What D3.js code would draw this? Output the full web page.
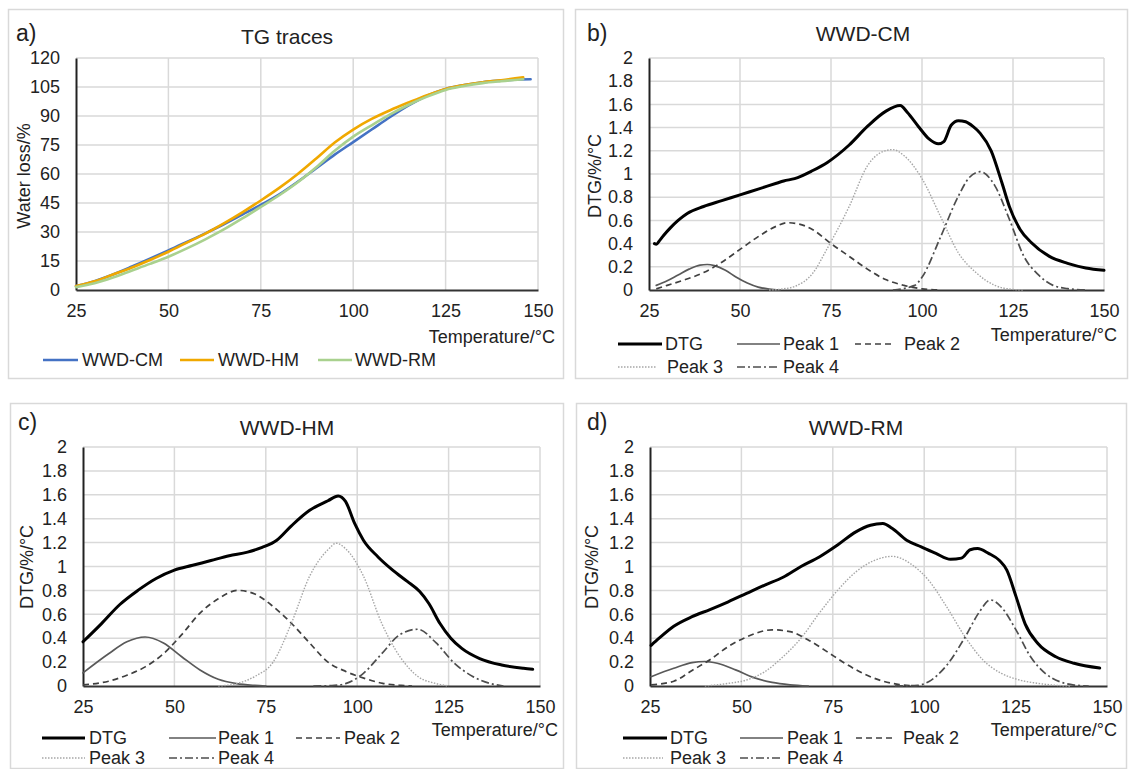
<!DOCTYPE html>
<html><head><meta charset="utf-8">
<script src="https://cdn.jsdelivr.net/npm/d3@7"></script>
<style>body{margin:0;background:#fff}svg{display:block}text{font-family:"Liberation Sans",Arial,sans-serif;fill:#222}</style>
</head><body><div id="chart"></div>
<script>
// ---------- data ----------
const tempTicks = [25, 50, 75, 100, 125, 150];
const tgTicks = [0, 15, 30, 45, 60, 75, 90, 105, 120];
const dtgTicks = [0, 0.2, 0.4, 0.6, 0.8, 1, 1.2, 1.4, 1.6, 1.8, 2];
const tgSeriesNames = ["WWD-CM", "WWD-HM", "WWD-RM"];
const dtgSeriesNames = ["DTG", "Peak 1", "Peak 2", "Peak 3", "Peak 4"];

const tgCM = [[25,2],[30,4.5],[35,8],[40,12],[45,16.2],[50,20.5],[55,24.8],[60,29.3],[65,34],[70,39],[75,44],[80,49.5],[85,56],[90,63],[95,70],[100,76.5],[105,83],[110,89.5],[115,95.5],[120,100.5],[125,104],[130,106],[135,107.5],[140,108.3],[145,108.9],[148,109]];
const tgHM = [[25,2],[30,4.5],[35,8],[40,11.5],[45,15.5],[50,19.8],[55,24.5],[60,29.2],[65,34.5],[70,40.2],[75,46.3],[80,52.8],[85,60],[90,68],[95,76.3],[100,83],[105,88.5],[110,93],[115,97],[120,100.8],[125,104],[130,106],[135,107.5],[140,108.5],[146,110]];
const tgRM = [[25,1.5],[30,3.5],[35,6.5],[40,10],[45,13.5],[50,17.2],[55,21.5],[60,26.2],[65,31.3],[70,37],[75,43],[80,49],[85,55.7],[90,63.5],[95,72],[100,79.3],[105,85.2],[110,90.8],[115,95.8],[120,100],[125,103.5],[130,105.5],[135,107],[140,108],[146,109]];

// WWD-CM
const cmDTG = [[26.5,0.40],[27,0.395],[28,0.43],[29,0.47],[31,0.54],[33,0.60],[35.5,0.66],[40,0.72],[45,0.77],[50,0.82],[55,0.87],[60,0.92],[62,0.94],[65,0.96],[70,1.03],[74,1.10],[80,1.25],[85,1.41],[90,1.54],[94,1.59],[96,1.53],[99,1.41],[102,1.30],[104.5,1.26],[106,1.28],[108,1.42],[110,1.46],[112,1.45],[114,1.41],[116,1.35],[119,1.20],[122,0.92],[124,0.72],[127,0.52],[130,0.41],[135,0.29],[140,0.23],[145,0.19],[150,0.17]];
const cmP1 = [[27,0.04],[30,0.08],[33,0.13],[36,0.18],[39,0.215],[41,0.22],[43,0.21],[46,0.17],[49,0.11],[52,0.06],[55,0.025],[58,0.008],[61,0]];
const cmP2 = [[27,0.01],[30,0.04],[35,0.09],[40,0.15],[45,0.24],[50,0.35],[55,0.46],[60,0.55],[63,0.58],[66,0.57],[70,0.52],[75,0.40],[80,0.29],[85,0.18],[90,0.09],[95,0.04],[100,0.01],[105,0]];
const cmP3 = [[58,0],[62,0.01],[65,0.03],[70,0.145],[74,0.36],[80,0.72],[85,1.07],[89,1.19],[92,1.21],[95,1.16],[100,0.96],[105,0.64],[110,0.32],[115,0.145],[120,0.04],[125,0.005],[128,0]];
const cmP4 = [[92,0],[98,0.04],[100,0.11],[105,0.45],[110,0.81],[113,0.97],[116,1.02],[120,0.90],[124,0.61],[128,0.29],[132,0.13],[136,0.04],[140,0.012],[145,0]];

// WWD-HM
const hmDTG = [[25,0.37],[30,0.52],[35,0.68],[40,0.80],[45,0.90],[50,0.97],[55,1.01],[60,1.05],[65,1.09],[70,1.12],[74,1.16],[78,1.22],[82,1.34],[87,1.47],[92,1.55],[94.8,1.59],[96.8,1.545],[99.3,1.36],[101.7,1.22],[105.7,1.08],[109.7,0.97],[113.7,0.875],[117.1,0.79],[119.6,0.69],[122.6,0.525],[125.6,0.40],[128.6,0.315],[133.5,0.23],[139.5,0.176],[145.5,0.148],[148,0.14]];
const hmP1 = [[25,0.11],[32,0.27],[37,0.37],[42,0.41],[47,0.36],[52,0.245],[57,0.134],[62,0.056],[67,0.02],[72,0.005],[75,0]];
const hmP2 = [[25,0.01],[32,0.04],[37,0.09],[42,0.16],[47,0.27],[52,0.43],[57,0.61],[62,0.73],[67.4,0.80],[72,0.77],[77,0.665],[82,0.525],[87,0.36],[92,0.20],[97,0.12],[102,0.064],[107,0.022],[112,0.005],[115,0]];
const hmP3 = [[62,0],[67,0.02],[72,0.08],[77,0.2],[82,0.525],[87,0.92],[92,1.14],[94.3,1.195],[96.8,1.15],[101.7,0.92],[106.7,0.525],[111.7,0.245],[116.6,0.08],[121.6,0.02],[125,0]];
const hmP4 = [[88,0],[93.8,0.005],[96.8,0.02],[101.7,0.106],[106.7,0.27],[111.7,0.43],[116.6,0.475],[121.6,0.36],[126.6,0.19],[131.6,0.08],[136.5,0.02],[140,0]];

// WWD-RM
const rmDTG = [[25.3,0.34],[27.5,0.40],[31.5,0.50],[36.5,0.58],[41.4,0.64],[46.4,0.705],[51.4,0.775],[56.4,0.845],[61.4,0.91],[66.3,1.00],[71.3,1.08],[76.3,1.18],[81.3,1.29],[85.3,1.345],[88.7,1.36],[91.2,1.32],[95.2,1.22],[99.2,1.165],[103.2,1.11],[107.2,1.06],[110.2,1.07],[112.6,1.14],[114.6,1.15],[117.6,1.11],[120.6,1.05],[122.6,0.97],[125.1,0.75],[127.6,0.52],[131.1,0.355],[136,0.245],[141,0.19],[148,0.15]];
const rmP1 = [[25.3,0.078],[31.5,0.148],[36.5,0.195],[40,0.205],[43.4,0.19],[48.4,0.135],[53.4,0.07],[58.4,0.03],[63.3,0.01],[68.3,0]];
const rmP2 = [[25.3,0.01],[31.5,0.04],[36.5,0.13],[41.4,0.22],[46.4,0.33],[51.4,0.41],[58.4,0.47],[63.3,0.455],[68.3,0.385],[73.3,0.29],[78.3,0.19],[83.3,0.105],[88.2,0.045],[93.2,0.012],[98.2,0]];
const rmP3 = [[40,0],[46.4,0.022],[51.4,0.05],[56.4,0.12],[61.4,0.245],[66.3,0.40],[71.3,0.61],[76.3,0.80],[81.3,0.955],[86.3,1.05],[91.2,1.085],[96.2,1.025],[101.2,0.885],[106.2,0.66],[111.2,0.41],[116.1,0.217],[121.1,0.106],[126.1,0.05],[131.1,0.022],[136,0.006],[140,0]];
const rmP4 = [[92,0],[98.2,0.005],[101.2,0.036],[106.2,0.175],[111.2,0.41],[115.1,0.62],[118.1,0.72],[121.1,0.66],[125.1,0.47],[129.1,0.245],[133.1,0.106],[137.1,0.036],[141,0.008],[145,0]];

// ---------- drawing ----------
const svg = d3.select("#chart").append("svg").attr("width",1129).attr("height",769);

const tgStyles = [
  {stroke:"#4472C4", width:2.6, dash:null},
  {stroke:"#F0A800", width:2.6, dash:null},
  {stroke:"#A9D18E", width:2.6, dash:null}
];
const dtgStyles = [
  {stroke:"#000", width:3, dash:null},
  {stroke:"#595959", width:1.7, dash:null},
  {stroke:"#404040", width:1.7, dash:"6,4"},
  {stroke:"#a6a6a6", width:1.4, dash:"1.5,1.5"},
  {stroke:"#4d4d4d", width:1.7, dash:"8,3,2,3"}
];

function panel(cfg){
  const g = svg.append("g");
  g.append("rect").attr("x",cfg.box[0]+0.5).attr("y",cfg.box[1]+0.5)
    .attr("width",cfg.box[2]-cfg.box[0]).attr("height",cfg.box[3]-cfg.box[1])
    .attr("fill","#fff").attr("stroke","#d9d9d9").attr("stroke-width",1.5);
  const x = d3.scaleLinear().domain([25,150]).range([cfg.plot[0],cfg.plot[1]]);
  const y = d3.scaleLinear().domain(cfg.yDomain).range([cfg.plot[3],cfg.plot[2]]);
  // grid
  g.append("g").selectAll("line").data(cfg.yTicks.filter(d=>d!==cfg.yDomain[0])).join("line")
    .attr("x1",x(25)).attr("x2",x(150)).attr("y1",d=>y(d)).attr("y2",d=>y(d))
    .attr("stroke","#d9d9d9").attr("stroke-width",1.5);
  g.append("g").selectAll("line").data(tempTicks.slice(1)).join("line")
    .attr("x1",d=>x(d)).attr("x2",d=>x(d)).attr("y1",y(cfg.yDomain[1])).attr("y2",y(cfg.yDomain[0]))
    .attr("stroke","#d9d9d9").attr("stroke-width",1.5);
  // axes via d3 axis
  const yAxis = g.append("g").attr("transform",`translate(${x(25)},0)`)
    .call(d3.axisLeft(y).tickValues(cfg.yTicks).tickSize(0).tickPadding(cfg.yPad).tickFormat(d=>d3.format("~g")(d)));
  yAxis.select(".domain").attr("stroke","#222").attr("stroke-width",2);
  yAxis.selectAll("text").attr("font-size",cfg.tickFont).attr("fill","#222").attr("font-family","Liberation Sans, Arial, sans-serif");
  const xAxis = g.append("g").attr("transform",`translate(0,${y(cfg.yDomain[0])})`)
    .call(d3.axisBottom(x).tickValues(tempTicks).tickSize(0).tickPadding(cfg.xPad).tickFormat(d3.format("d")));
  xAxis.select(".domain").attr("stroke","#333").attr("stroke-width",2);
  xAxis.selectAll("text").attr("font-size",cfg.tickFont).attr("fill","#222").attr("font-family","Liberation Sans, Arial, sans-serif");
  // series
  const line = d3.line().x(d=>x(d[0])).y(d=>y(d[1])).curve(d3.curveMonotoneX);
  cfg.series.forEach((s,i)=>{
    const st = cfg.styles[i];
    g.append("path").datum(s).attr("d",line).attr("fill","none")
      .attr("stroke",st.stroke).attr("stroke-width",st.width)
      .attr("stroke-dasharray",st.dash).attr("stroke-linejoin","round").attr("stroke-linecap", st.dash? "butt":"round");
  });
  // texts
  g.append("text").attr("x",cfg.letter[0]).attr("y",cfg.letter[1]).attr("font-size",23).text(cfg.letterText);
  g.append("text").attr("x",cfg.title[0]).attr("y",cfg.title[1]).attr("text-anchor","middle").attr("font-size",21).text(cfg.titleText);
  g.append("text").attr("transform",`translate(${cfg.ytitle[0]},${cfg.ytitle[1]}) rotate(-90)`)
    .attr("text-anchor","middle").attr("dominant-baseline","central").attr("font-size",18).text(cfg.ytitleText);
  g.append("text").attr("x",cfg.xtitle[0]).attr("y",cfg.xtitle[1]).attr("text-anchor","end").attr("font-size",18).text("Temperature/°C");
  // legend
  cfg.legend.forEach((L,i)=>{
    const st = cfg.styles[i];
    g.append("line").attr("x1",L[0]).attr("x2",L[1]).attr("y1",L[3]).attr("y2",L[3])
      .attr("stroke",st.stroke).attr("stroke-width",st.width).attr("stroke-dasharray",st.dash);
    g.append("text").attr("x",L[2]).attr("y",L[3]).attr("dominant-baseline","central").attr("font-size",18).text(cfg.names[i]);
  });
}

panel({box:[8,9,563,378], plot:[76,538,58,290], yDomain:[0,120], yTicks:tgTicks, yPad:16, xPad:14, tickFont:18,
  series:[tgCM,tgHM,tgRM], styles:tgStyles, names:tgSeriesNames,
  letter:[16,41], letterText:"a)", title:[287,44], titleText:"TG traces",
  ytitle:[24,176], ytitleText:"Water loss/%", xtitle:[555,343],
  legend:[[43,78,82,360],[180,214,218,360],[318,352,355,360]]});

panel({box:[575,9,1127,378], plot:[649,1104,58,290], yDomain:[0,2], yTicks:dtgTicks, yPad:16, xPad:14, tickFont:18,
  series:[cmDTG,cmP1,cmP2,cmP3,cmP4], styles:dtgStyles, names:dtgSeriesNames,
  letter:[587,41], letterText:"b)", title:[863,41], titleText:"WWD-CM",
  ytitle:[595,176], ytitleText:"DTG/%/°C", xtitle:[1117,341],
  legend:[[618,662,665,344],[737,780,783,344],[855,895,904,344],[618,657,667,367],[737,780,783,367]]});

panel({box:[10,403,563,768], plot:[83,540,447,686], yDomain:[0,2], yTicks:dtgTicks, yPad:16, xPad:14, tickFont:18,
  series:[hmDTG,hmP1,hmP2,hmP3,hmP4], styles:dtgStyles, names:dtgSeriesNames,
  letter:[18,430], letterText:"c)", title:[287,435], titleText:"WWD-HM",
  ytitle:[27,567], ytitleText:"DTG/%/°C", xtitle:[558,736],
  legend:[[42,85,89,738],[169,216,218,738],[296,340,344,738],[42,85,89,758],[169,216,218,758]]});

panel({box:[576,403,1126,768], plot:[650,1107,447,686], yDomain:[0,2], yTicks:dtgTicks, yPad:16, xPad:14, tickFont:18,
  series:[rmDTG,rmP1,rmP2,rmP3,rmP4], styles:dtgStyles, names:dtgSeriesNames,
  letter:[587,430], letterText:"d)", title:[856,435], titleText:"WWD-RM",
  ytitle:[592,567], ytitleText:"DTG/%/°C", xtitle:[1117,736],
  legend:[[623,667,670,738],[740,783,787,738],[856,896,903,738],[623,663,670,758],[740,783,787,758]]});
</script></body></html>
